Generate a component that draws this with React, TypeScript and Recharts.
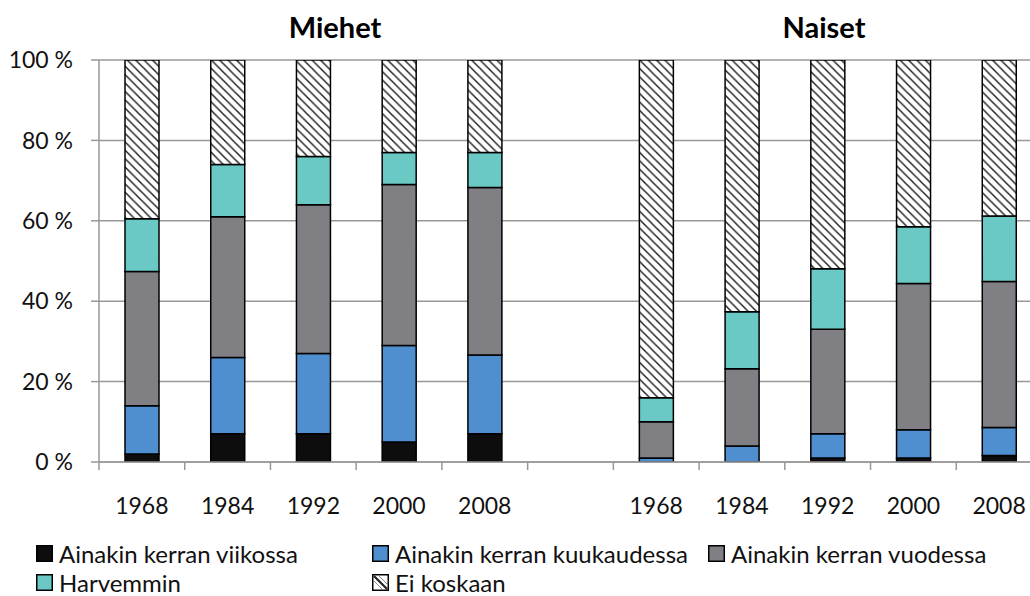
import React from 'react';
import { BarChart, Bar, XAxis, YAxis, CartesianGrid } from 'recharts';

// ---- data ----
const categoryIds = ['M1968', 'M1984', 'M1992', 'M2000', 'M2008', 'GAP', 'N1968', 'N1984', 'N1992', 'N2000', 'N2008'];
const categoryLabels = ['1968', '1984', '1992', '2000', '2008', '', '1968', '1984', '1992', '2000', '2008'];
const groupTitles = ['Miehet', 'Naiset'];

const viikossa = [2, 7, 7, 5, 7, null, 0, 0, 1, 1, 1.6];
const kuukaudessa = [12, 19, 20, 24, 19.6, null, 1, 4, 6, 7, 7];
const vuodessa = [33.4, 35, 37, 40, 41.7, null, 9, 19.2, 26, 36.4, 36.3];
const harvemmin = [13.1, 13, 12, 8, 8.7, null, 6, 14.2, 15.1, 14.1, 16.3];
const eiKoskaan = [39.5, 26, 24, 23, 23, null, 84, 62.6, 51.9, 41.5, 38.8];

const yTicks = [0, 20, 40, 60, 80, 100];

const seriesNames = [
  'Ainakin kerran viikossa',
  'Ainakin kerran kuukaudessa',
  'Ainakin kerran vuodessa',
  'Harvemmin',
  'Ei koskaan',
];
const seriesKeys = ['viikossa', 'kuukaudessa', 'vuodessa', 'harvemmin', 'eiKoskaan'];
const seriesValues = [viikossa, kuukaudessa, vuodessa, harvemmin, eiKoskaan];
const seriesFills = ['#0d0d0d', '#4f8fcf', '#7f7f84', '#6bc9c5', 'url(#hatch)'];

const data = categoryIds.map((id, i) => {
  const row: Record<string, any> = { id, label: categoryLabels[i] };
  seriesKeys.forEach((k, s) => {
    row[k] = seriesValues[s][i];
  });
  return row;
});

// ---- layout ----
const W = 1060;
const H = 596;
const M = { top: 60, right: 18, left: 0, bottom: 74 };
const YW = 99;
const XH = 60;
const PLOT_BOTTOM = H - M.bottom - XH;
const BAND = (W - M.left - YW - M.right) / categoryIds.length;
const GRID = '#989898';
const FONT = 'Lato, "Open Sans", sans-serif';

const XTick = (props: any) => {
  const { x, index, payload } = props;
  const left = x - BAND / 2;
  const label = categoryLabels[payload?.index ?? index] ?? '';
  return (
    <g>
      <line x1={left} x2={left} y1={PLOT_BOTTOM} y2={PLOT_BOTTOM + 8} stroke={GRID} strokeWidth={1.5} />
      {index === categoryIds.length - 1 && (
        <line x1={left + BAND} x2={left + BAND} y1={PLOT_BOTTOM} y2={PLOT_BOTTOM + 8} stroke={GRID} strokeWidth={1.5} />
      )}
      <text x={x} y={PLOT_BOTTOM + 43} textAnchor="middle" dominantBaseline="central" fontSize={23} fill="#111" fontFamily={FONT}>
        {label}
      </text>
    </g>
  );
};

export default function App() {
  return (
    <div style={{ position: 'fixed', left: 0, top: 0, width: 1030, height: 596, overflow: 'hidden', background: '#fff', fontFamily: FONT }}>
      <BarChart width={W} height={H} data={data} margin={M} barSize={34}>
        <defs>
          <pattern id="hatch" patternUnits="userSpaceOnUse" width={8.4} height={8.4}>
            <rect x={0} y={0} width={8.4} height={8.4} fill="#fff" />
            <path d="M0,0 L8.4,8.4 M-4.2,4.2 L4.2,12.6 M4.2,-4.2 L12.6,4.2" stroke="#1a1a1a" strokeWidth={1.4} />
          </pattern>
        </defs>
        <CartesianGrid vertical={false} stroke={GRID} strokeWidth={1.5} />
        <XAxis
          dataKey="id"
          height={XH}
          interval={0}
          tickLine={false}
          axisLine={{ stroke: GRID, strokeWidth: 1.5 }}
          tick={<XTick />}
        />
        <YAxis
          width={YW}
          domain={[0, 100]}
          ticks={yTicks}
          allowDataOverflow
          tickFormatter={(v: number) => `${v} %`}
          tickSize={8}
          tickMargin={18}
          tickLine={{ stroke: GRID, strokeWidth: 1.5 }}
          axisLine={{ stroke: GRID, strokeWidth: 1.5 }}
          tick={{ fontSize: 23, fill: '#111', fontFamily: FONT }}
        />
        {seriesKeys.map((k, s) => (
          <Bar
            key={k}
            dataKey={k}
            name={seriesNames[s]}
            stackId="a"
            fill={seriesFills[s]}
            stroke="#000"
            strokeWidth={1.5}
            isAnimationActive={false}
          />
        ))}
      </BarChart>

      {groupTitles.map((t, i) => (
        <div
          key={t}
          style={{
            position: 'absolute',
            top: 9,
            left: i === 0 ? 335 - 100 : 824 - 100,
            width: 200,
            textAlign: 'center',
            fontSize: 29,
            fontWeight: 700,
            color: '#000',
            lineHeight: '36px',
          }}
        >
          {t}
        </div>
      ))}

      <div
        style={{
          position: 'absolute',
          left: 36,
          top: 539,
          display: 'grid',
          gridTemplateColumns: '336px 336px 336px',
          rowGap: 0,
        }}
      >
        {seriesNames.map((n, s) => (
          <div key={n} style={{ display: 'flex', alignItems: 'center', height: 29, whiteSpace: 'nowrap' }}>
            <svg width={17} height={17} style={{ marginRight: 6, flex: 'none' }}>
              {s === 4 ? (
                <>
                  <rect x={0.75} y={0.75} width={15.5} height={15.5} fill="#fff" stroke="#000" strokeWidth={1.5} />
                  <path d="M2,2 L15,15" stroke="#222" strokeWidth={2.2} />
                  <path d="M2,7 L10,15 M7,2 L15,10" stroke="#888" strokeWidth={1} />
                </>
              ) : (
                <rect x={0.75} y={0.75} width={15.5} height={15.5} fill={seriesFills[s]} stroke="#000" strokeWidth={1.5} />
              )}
            </svg>
            <span style={{ fontSize: 24, color: '#111' }}>{n}</span>
          </div>
        ))}
      </div>
    </div>
  );
}
